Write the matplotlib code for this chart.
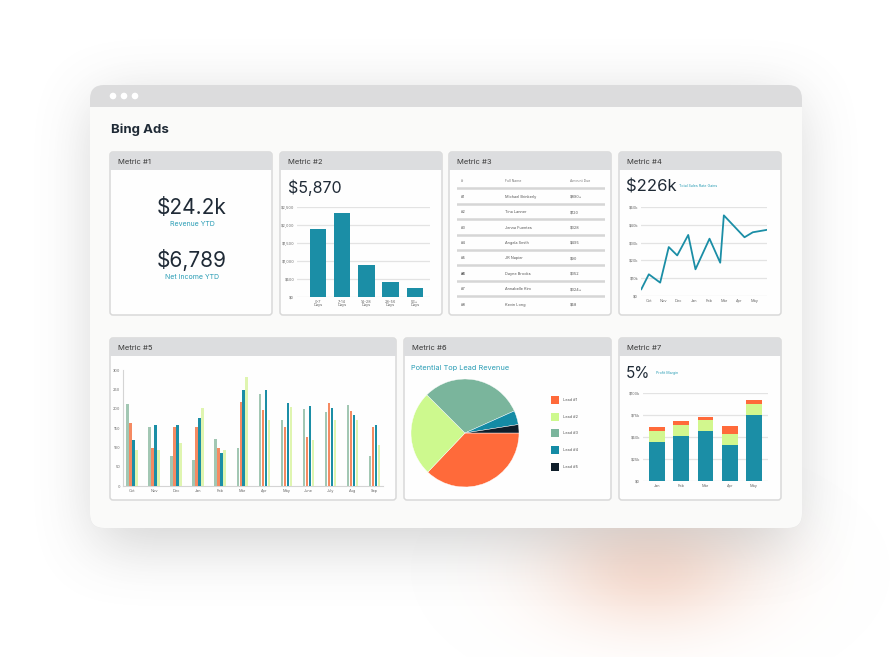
import numpy as np
import matplotlib
matplotlib.use("Agg")
import matplotlib.pyplot as plt
from matplotlib.patches import FancyBboxPatch, Rectangle, Circle

plt.rcParams['font.family'] = ['Inter', 'DejaVu Sans']

# ---- data ----
m1_values = ["$24.2k", "$6,789"]
m1_labels = ["Revenue YTD", "Net Income YTD"]

m2_total = "$5,870"
m2_cats = ["0-7\nDays", "7-14\nDays", "14-28\nDays", "28-56\nDays", "56+\nDays"]
m2_vals = [1890, 2330, 890, 420, 250]
m2_ticks = [0, 500, 1000, 1500, 2000, 2500]

m3_cols = ["#", "Full Name", "Amount Due"]
m3_ids = ["#1", "#2", "#3", "#4", "#5", "#6", "#7", "#8"]
m3_names = ["Michael Brinkerly", "Tina Lanner", "Jenna Fuentes", "Angela Smith",
            "JR Napier", "Dayne Brooks", "Annabelle Kim", "Kevin Long"]
m3_amounts = ["$890+", "$120", "$328", "$495", "$90", "$352", "$324+", "$58"]

m4_total = "$226k"
m4_note = "Total Sales Rate Gains"
m4_x = [-0.48, 0.02, 0.77, 1.34, 1.9, 2.63, 3.11, 4.04, 4.75, 4.99, 6.36, 6.91, 7.8]
m4_y = [3.8, 12.2, 7.5, 27.5, 22.8, 34.3, 15, 32.2, 18.7, 45.3, 33, 35.8, 37.1]
m4_months = ["Oct", "Nov", "Dec", "Jan", "Feb", "Mar", "Apr", "May"]
m4_ticks = [0, 10, 20, 30, 40, 50]

m5_months = ["Oct", "Nov", "Dec", "Jan", "Feb", "Mar", "Apr", "May", "June", "July", "Aug", "Sep"]
m5_s1 = [213, 152, 79, 68, 122, 98, 239, 171, 199, 192, 209, 79]
m5_s2 = [164, 98, 154, 154, 98, 218, 196, 154, 128, 214, 195, 154]
m5_s3 = [119, 158, 158, 175, 85, 248, 248, 214, 207, 201, 184, 158]
m5_s4 = [93, 93, 111, 201, 93, 282, 171, 205, 119, 171, 171, 106]
m5_ticks = [0, 50, 100, 150, 200, 250, 300]

m6_title = "Potential Top Lead Revenue"
m6_labels = ["Lead #1", "Lead #2", "Lead #3", "Lead #4", "Lead #5"]
m6_shares = [37.1, 25.4, 30.8, 4.2, 2.5]

m7_total = "5%"
m7_note = "Profit Margin"
m7_months = ["Jan", "Feb", "Mar", "Apr", "May"]
m7_base = [44.5, 51.7, 56.7, 41.4, 74.5]
m7_mid = [12.5, 11.8, 12.5, 12.2, 12.6]
m7_top = [4.6, 4.9, 3.0, 8.4, 4.5]
m7_ticks = [0, 25, 50, 75, 100]

TEAL = '#1b8ea6'
ORANGE = '#ff6a3a'
LIME = '#d2f78e'
SAGE = '#7ab59c'
NAVY = '#0f1e2a'
INK = '#1f2a36'
LINK = '#2a9db5'

W, H = 892, 657
fig = plt.figure(figsize=(W / 100, H / 100), dpi=100)
fig.patch.set_facecolor('white')

bg = fig.add_axes([0, 0, 1, 1])
bg.set_xlim(0, W)
bg.set_ylim(H, 0)
bg.axis('off')


def blur(a, r):
    k = np.ones(2 * r + 1) / (2 * r + 1)
    for _ in range(3):
        a = np.apply_along_axis(lambda v: np.convolve(v, k, mode='same'), 0, a)
        a = np.apply_along_axis(lambda v: np.convolve(v, k, mode='same'), 1, a)
    return a


# soft glow + drop shadow
yy, xx = np.mgrid[0:H, 0:W]
glow = np.exp(-(((xx - 650) / 75.0) ** 2 + ((yy - 570) / 42.0) ** 2) / 2)
img = np.zeros((H, W, 4))
img[..., 0], img[..., 1], img[..., 2] = 0.96, 0.80, 0.73
img[..., 3] = glow * 0.65
bg.imshow(img, extent=(0, W, H, 0), zorder=0, interpolation='bilinear')

mask = np.zeros((H, W))
mask[100:545, 95:797] = 1.0
sh = blur(mask, 28)
simg = np.zeros((H, W, 4))
simg[..., :3] = 0.42
simg[..., 3] = sh * 0.30
bg.imshow(simg, extent=(0, W, H, 0), zorder=1, interpolation='bilinear')
bg.set_xlim(0, W)
bg.set_ylim(H, 0)

# browser window
bg.add_patch(FancyBboxPatch((90, 85), 712, 443, boxstyle="round,pad=0,rounding_size=14",
                            fc='#dcdcdd', ec='none', zorder=2))
bg.add_patch(Rectangle((90, 107), 712, 300, fc='#fafaf9', ec='none', zorder=2))
bg.add_patch(FancyBboxPatch((90, 300), 712, 228, boxstyle="round,pad=0,rounding_size=14",
                            fc='#fafaf9', ec='none', zorder=2))
for cx in (113, 124, 135):
    bg.add_patch(Circle((cx, 96), 3.3, fc='white', ec='none', zorder=3))

bg.text(111, 130, "Bing Ads", fontsize=9.5, fontweight='bold', color=INK, va='center', zorder=4)


def panel(x0, y0, x1, y1, title):
    bg.add_patch(FancyBboxPatch((x0, y0), x1 - x0, y1 - y0, boxstyle="round,pad=0,rounding_size=3",
                                fc='#fefefe', ec='#d9d9d9', lw=1.1, zorder=3))
    bg.add_patch(FancyBboxPatch((x0, y0), x1 - x0, 18, boxstyle="round,pad=0,rounding_size=3",
                                fc='#dcdddf', ec='none', zorder=3))
    bg.add_patch(Rectangle((x0, y0 + 10), x1 - x0, 8, fc='#dcdddf', ec='none', zorder=3))
    bg.text(x0 + 8, y0 + 9.5, title, fontsize=5.5, color='#3a3a3a', va='center', zorder=4)


panel(110, 152, 272, 315, "Metric #1")
panel(280, 152, 442, 315, "Metric #2")
panel(449, 152, 611, 315, "Metric #3")
panel(619, 152, 781, 315, "Metric #4")
panel(110, 338, 396, 500, "Metric #5")
panel(404, 338, 611, 500, "Metric #6")
panel(619, 338, 781, 500, "Metric #7")


def ax_px(x0, y0, x1, y1):
    a = fig.add_axes([x0 / W, 1 - y1 / H, (x1 - x0) / W, (y1 - y0) / H])
    a.set_facecolor('none')
    for s in a.spines.values():
        s.set_visible(False)
    a.tick_params(length=0, labelsize=2.8, labelcolor='#666666', pad=2)
    return a


def grid(a):
    a.yaxis.grid(True, color='#e3e3e3', lw=0.9)
    a.set_axisbelow(True)


# Metric #1
for i, (v, lab) in enumerate(zip(m1_values, m1_labels)):
    bg.text(192, 208 + 52 * i, v, fontsize=15, color=INK, ha='center', va='center', zorder=4)
    bg.text(192, 224.5 + 52.5 * i, lab, fontsize=5, color=LINK, ha='center', va='center', zorder=4)

# Metric #2
bg.text(288, 188, m2_total, fontsize=11.5, color=INK, va='center', zorder=4)
ax2 = ax_px(297, 207, 430, 297)
grid(ax2)
ax2.bar(range(len(m2_vals)), m2_vals, width=0.67, color=TEAL, zorder=3)
ax2.set_ylim(0, 2500)
ax2.set_xlim(-0.87, 4.63)
ax2.set_yticks(m2_ticks)
ax2.set_yticklabels(["$" + format(t, ",") for t in m2_ticks])
ax2.set_xticks(range(len(m2_cats)))
ax2.set_xticklabels(m2_cats, linespacing=0.9)

# Metric #3 table
ax3 = ax_px(457, 172, 605, 314)
ax3.set_xlim(457, 605)
ax3.set_ylim(8.6, -0.6)
ax3.set_xticks([])
ax3.set_yticks([])
hdr_x = [461, 505, 570]
for x, c in zip(hdr_x, m3_cols):
    ax3.text(x, 0, c, fontsize=2.5, color='#777777', va='center')
for r in range(len(m3_ids)):
    ax3.axhline(r + 0.45, color='#d6d6d6', lw=1.8)
    wt = 'bold' if r == 5 else 'normal'
    ax3.text(hdr_x[0], r + 1, m3_ids[r], fontsize=2.8, color='#555555', va='center', fontweight=wt)
    ax3.text(hdr_x[1], r + 1, m3_names[r], fontsize=2.8, color='#555555', va='center')
    ax3.text(hdr_x[2], r + 1, m3_amounts[r], fontsize=2.8, color='#555555', va='center')

# Metric #4
bg.text(626, 187, m4_total, fontsize=12, color=INK, va='center', zorder=4)
bg.text(679, 186, m4_note, fontsize=2.6, color=LINK, va='center', zorder=4)
ax4 = ax_px(641, 207, 767, 296)
grid(ax4)
ax4.plot(m4_x, m4_y, color=TEAL, lw=1.3, zorder=3)
ax4.set_ylim(0, 50)
ax4.set_xlim(-0.5, 7.85)
ax4.set_yticks(m4_ticks)
ax4.set_yticklabels(["$0"] + ["$%dk" % t for t in m4_ticks[1:]])
ax4.set_xticks(range(len(m4_months)))
ax4.set_xticklabels(m4_months)

# Metric #5
ax5 = ax_px(123, 370, 383, 486.3)
series = [(m5_s1, '#a2c7b3'), (m5_s2, '#f58a62'), (m5_s3, TEAL), (m5_s4, '#dff5b0')]
xs = np.arange(len(m5_months))
for k, (vals, col) in enumerate(series):
    ax5.bar(xs + (k - 1.5) * 0.136, vals, width=0.1, color=col, zorder=3)
ax5.set_ylim(0, 300)
ax5.set_xlim(-0.41, 11.4)
ax5.spines['left'].set_visible(True)
ax5.spines['bottom'].set_visible(True)
ax5.spines['left'].set_color('#d4d4d4')
ax5.spines['bottom'].set_color('#d4d4d4')
ax5.spines['left'].set_linewidth(0.8)
ax5.spines['bottom'].set_linewidth(0.8)
ax5.set_yticks(m5_ticks)
ax5.set_xticks(xs)
ax5.set_xticklabels(m5_months)

# Metric #6
bg.text(411, 368, m6_title, fontsize=5.3, color=LINK, va='center', zorder=4)
ax6 = ax_px(411, 379, 519, 487)
pie_cols = [ORANGE, '#cdf98e', SAGE, '#148ba5', NAVY]
ax6.pie(m6_shares, colors=pie_cols, startangle=0,
        counterclock=False, radius=1.0, wedgeprops=dict(edgecolor='white', linewidth=0.3))
ax6.set_xlim(-1.0, 1.0)
ax6.set_ylim(-1.0, 1.0)
ax6.set_aspect('equal')
for i, (lab, col) in enumerate(zip(m6_labels, pie_cols)):
    bg.add_patch(Rectangle((551, 396 + 16.7 * i), 8, 8, fc=col, ec='none', zorder=4))
    bg.text(563, 400 + 16.7 * i, lab, fontsize=2.8, color='#555555', va='center', zorder=4)

# Metric #7
bg.text(626, 373, m7_total, fontsize=11, color=INK, va='center', zorder=4)
bg.text(656, 373, m7_note, fontsize=2.6, color=LINK, va='center', zorder=4)
ax7 = ax_px(643, 393, 768, 481)
grid(ax7)
xs7 = np.arange(len(m7_months))
ax7.bar(xs7, m7_base, width=0.66, color=TEAL, zorder=3)
ax7.bar(xs7, m7_mid, width=0.66, bottom=m7_base, color=LIME, zorder=3)
ax7.bar(xs7, m7_top, width=0.66, bottom=np.add(m7_base, m7_mid), color=ORANGE, zorder=3)
ax7.set_ylim(0, 100)
ax7.set_xlim(-0.58, 4.58)
ax7.set_yticks(m7_ticks)
ax7.set_yticklabels(["$0"] + ["$%dk" % t for t in m7_ticks[1:]])
ax7.set_xticks(xs7)
ax7.set_xticklabels(m7_months)

fig.savefig("out.png", dpi=100)
